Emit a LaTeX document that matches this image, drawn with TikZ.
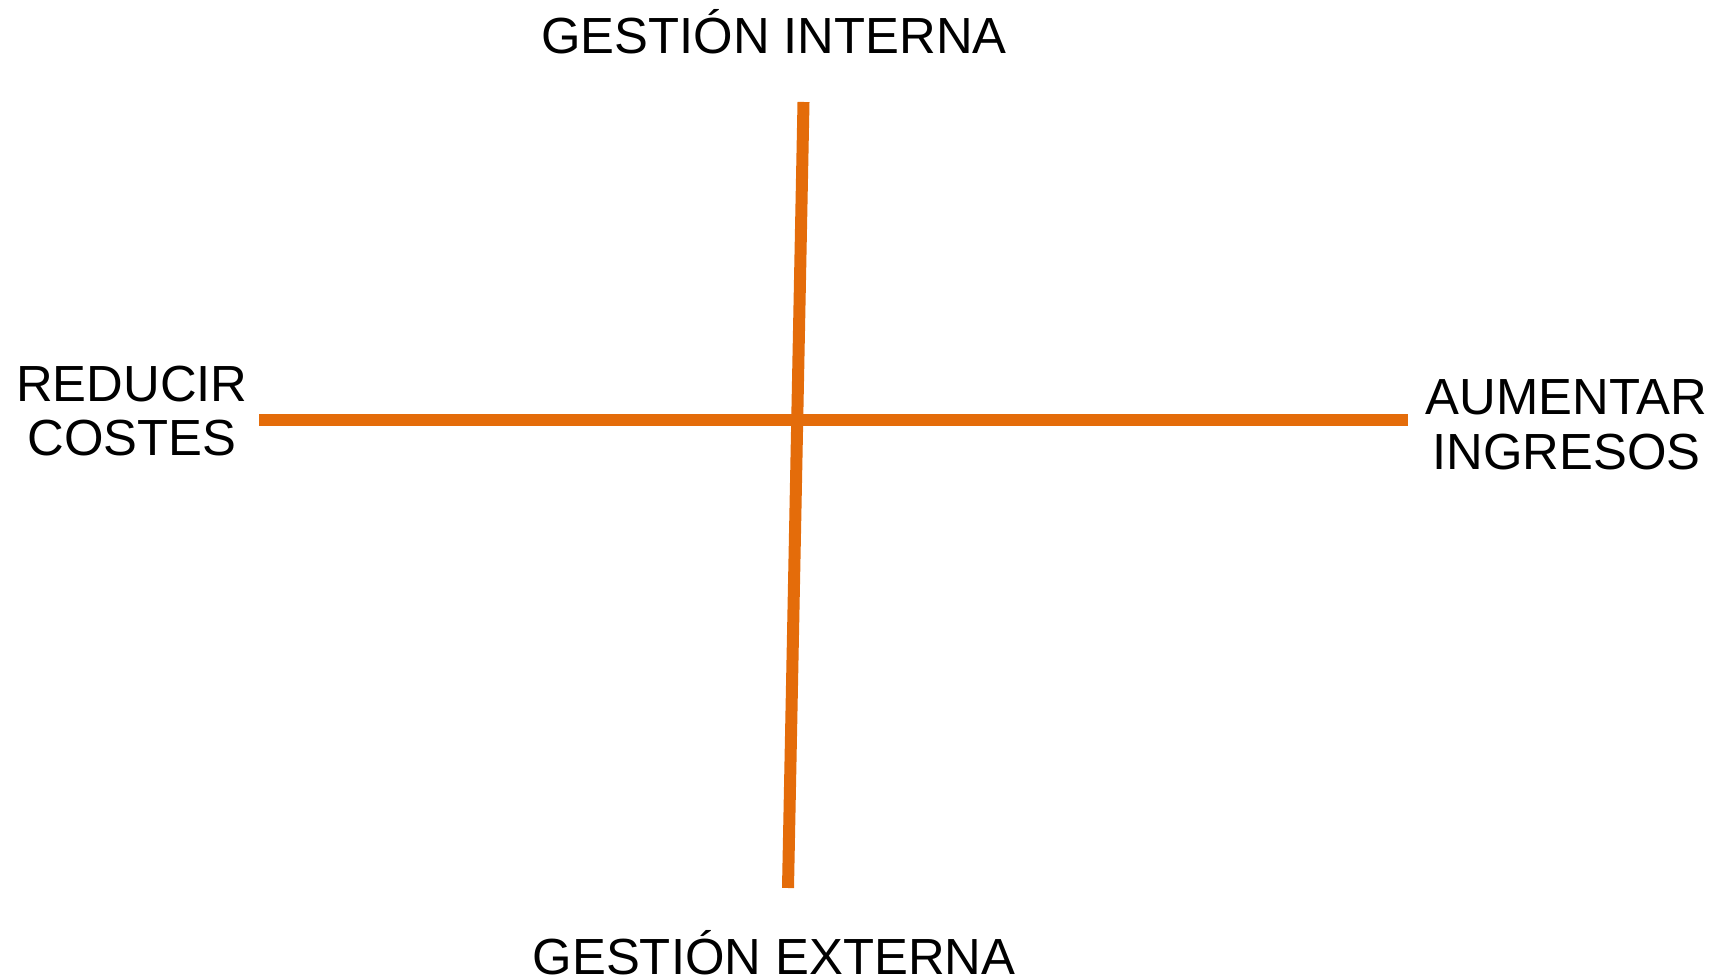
\documentclass[tikz,border=0pt]{standalone}
\usepackage{fontspec}
\setmainfont{Liberation Sans}
\definecolor{axisOrange}{RGB}{228,108,10}

\begin{document}
\begin{tikzpicture}[
  eje/.style={
    draw=axisOrange,
    line width=0.24cm,
  },
  etiq/.style={
    font=\fontsize{28.9}{30.2}\selectfont,
    align=center,
    inner sep=0pt,
  },
]
  \useasboundingbox (0,0) rectangle (34.32,19.6);

  \coordinate (izq) at (5.18,11.2);
  \coordinate (der) at (28.16,11.2);
  \coordinate (arr) at (16.07,17.56);
  \coordinate (aba) at (15.76,1.84);

  \node[etiq, anchor=base] (interna) at (15.48,18.52) {GESTIÓN INTERNA};
  \node[etiq, anchor=base] (externa) at (15.48,0.12) {GESTIÓN EXTERNA};
  \node[etiq] (costes) at (2.64,11.38) {REDUCIR\\COSTES};
  \node[etiq, font=\fontsize{28.9}{31.3}\selectfont] (ingresos) at (31.33,11.1)
    {AUMENTAR\\INGRESOS};

  \draw[eje] (izq) -- (der);
  \draw[eje] (arr) -- (aba);

\end{tikzpicture}
\end{document}
